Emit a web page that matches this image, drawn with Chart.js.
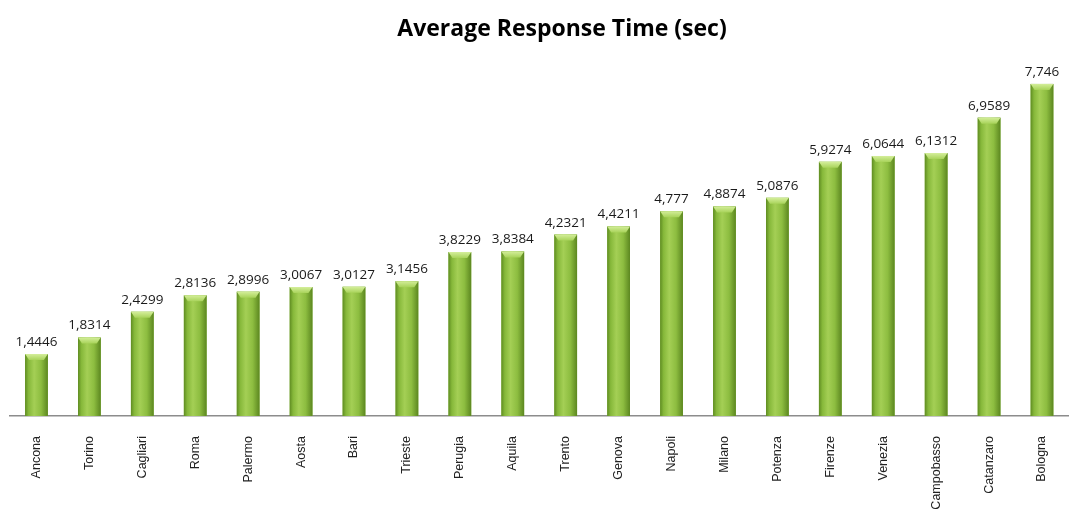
<!DOCTYPE html>
<html>
<head>
<meta charset="utf-8">
<script src="https://cdn.jsdelivr.net/npm/chart.js@4/dist/chart.umd.min.js"></script>
<style>
  html, body { margin: 0; padding: 0; background: #fff; }
  #wrap { width: 1069px; height: 512px; }
</style>
</head>
<body>
<div id="wrap"><canvas id="rt"></canvas></div>
<script>
const cities = ["Ancona", "Torino", "Cagliari", "Roma", "Palermo", "Aosta", "Bari", "Trieste",
  "Perugia", "Aquila", "Trento", "Genova", "Napoli", "Milano", "Potenza", "Firenze",
  "Venezia", "Campobasso", "Catanzaro", "Bologna"];
const responseTime = [1.4446, 1.8314, 2.4299, 2.8136, 2.8996, 3.0067, 3.0127, 3.1456,
  3.8229, 3.8384, 4.2321, 4.4211, 4.777, 4.8874, 5.0876, 5.9274,
  6.0644, 6.1312, 6.9589, 7.746];
const valueLabels = ["1,4446", "1,8314", "2,4299", "2,8136", "2,8996", "3,0067", "3,0127", "3,1456",
  "3,8229", "3,8384", "4,2321", "4,4211", "4,777", "4,8874", "5,0876", "5,9274",
  "6,0644", "6,1312", "6,9589", "7,746"];
const chartTitle = "Average Response Time (sec)";

// title sits a bit right of the canvas centre in the original
const titleText = {
  id: "titleText",
  afterDraw(chart) {
    const ctx = chart.ctx;
    ctx.save();
    ctx.fillStyle = "#000";
    ctx.font = "bold 23px 'Open Sans', sans-serif";
    ctx.textAlign = "center";
    ctx.textBaseline = "middle";
    ctx.fillText(chartTitle, 562, 29);
    ctx.restore();
  }
};

// cylinder look: horizontal gradient + lighter bevel on top
const cylinderBars = {
  id: "cylinderBars",
  afterDatasetsDraw(chart) {
    const ctx = chart.ctx;
    const meta = chart.getDatasetMeta(0);
    ctx.save();
    meta.data.forEach((bar, i) => {
      const left = bar.x - bar.width / 2;
      const right = bar.x + bar.width / 2;
      const top = bar.y, bottom = bar.base;
      const g = ctx.createLinearGradient(left, 0, right, 0);
      g.addColorStop(0, "#5f8c22");
      g.addColorStop(0.15, "#86b83a");
      g.addColorStop(0.4, "#a4cf55");
      g.addColorStop(0.7, "#8dbd40");
      g.addColorStop(1, "#5c8720");
      ctx.fillStyle = g;
      ctx.fillRect(left, top, right - left, bottom - top);
      // top bevel
      const cap = 6;
      const cg = ctx.createLinearGradient(0, top, 0, top + cap);
      cg.addColorStop(0, "#d4ee9a");
      cg.addColorStop(1, "#a8d35a");
      ctx.fillStyle = cg;
      ctx.beginPath();
      ctx.moveTo(left, top);
      ctx.lineTo(right, top);
      ctx.lineTo(right - 4, top + cap);
      ctx.lineTo(left + 4, top + cap);
      ctx.closePath();
      ctx.fill();
      // value label
      ctx.fillStyle = "#1a1a1a";
      ctx.font = "13.5px 'Open Sans', sans-serif";
      ctx.textAlign = "center";
      ctx.textBaseline = "alphabetic";
      ctx.fillText(valueLabels[i], bar.x, top - 8);
    });
    ctx.restore();
  }
};

new Chart(document.getElementById("rt"), {
  type: "bar",
  data: {
    labels: cities,
    datasets: [{
      label: chartTitle,
      data: responseTime,
      backgroundColor: "#8cbf3f",
      barPercentage: 0.86,
      categoryPercentage: 0.5
    }]
  },
  plugins: [cylinderBars, titleText],
  options: {
    responsive: true,
    maintainAspectRatio: false,
    animation: false,
    layout: { padding: { left: 10, right: 0, top: 73, bottom: 0 } },
    plugins: {
      legend: { display: false },
      tooltip: { enabled: false },
      title: { display: false }
    },
    scales: {
      x: {
        grid: { display: false },
        border: { display: true, color: "#8c8c8c", width: 1.5 },
        ticks: {
          color: "#222",
          font: { family: "'Liberation Sans', sans-serif", size: 12.5 },
          minRotation: 90,
          maxRotation: 90,
          autoSkip: false,
          padding: 12
        },
        afterFit(scale) { scale.height = 96; }
      },
      y: {
        display: false,
        min: 0,
        max: 8
      }
    }
  }
});
</script>
</body>
</html>
